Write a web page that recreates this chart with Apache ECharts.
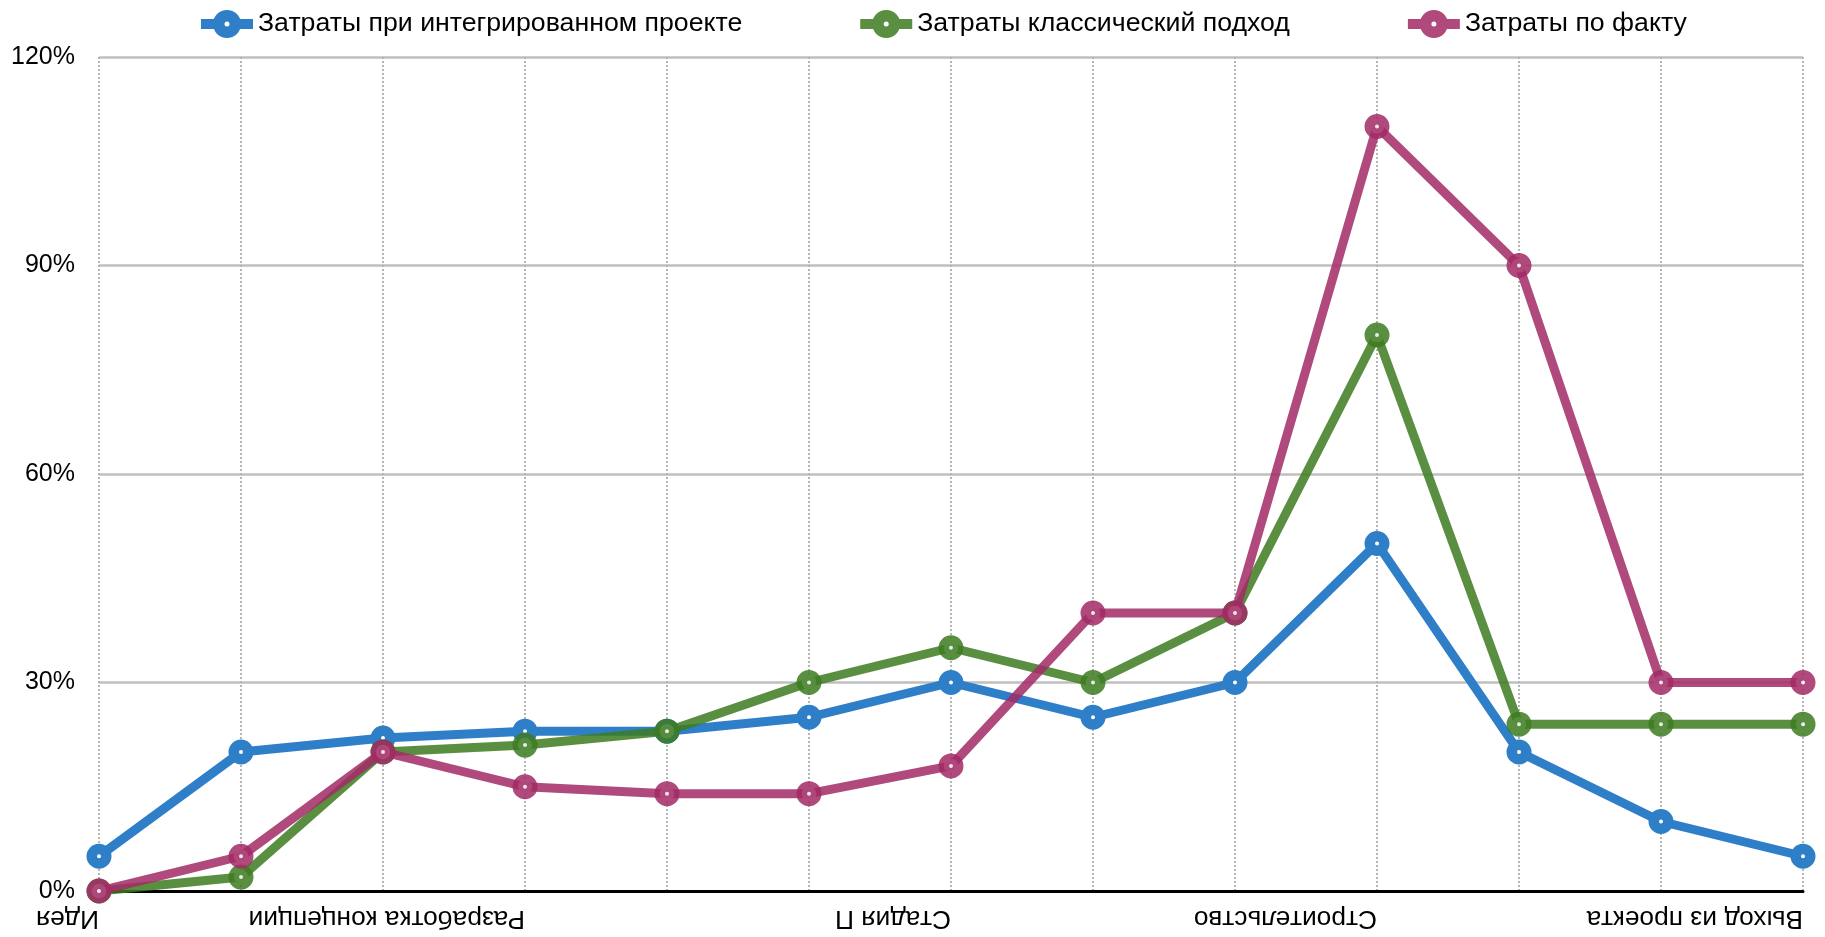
<!DOCTYPE html>
<html>
<head>
<meta charset="utf-8">
<script src="https://cdn.jsdelivr.net/npm/echarts@6/dist/echarts.min.js"></script>
<style>
html,body{margin:0;padding:0;background:#fff;}
#chart{width:1825px;height:937px;}
</style>
</head>
<body>
<div id="chart"></div>
<script>
const categories = ['Идея', '', '', 'Разработка концепции', '', '', 'Стадия П', '', '', 'Строительство', '', '', 'Выход из проекта'];
const seriesNames = ['Затраты при интегрированном проекте', 'Затраты классический подход', 'Затраты по факту'];
const integrated = [5, 20, 22, 23, 23, 25, 30, 25, 30, 50, 20, 10, 5];
const classic = [0, 2, 20, 21, 23, 30, 35, 30, 40, 80, 24, 24, 24];
const actual = [0, 5, 20, 15, 14, 14, 18, 40, 40, 110, 90, 30, 30];
const yTicks = { min: 0, max: 120, interval: 30 };

const colors = ['#2e7fc8', '#3d7b21', '#a22a65'];
const opac = [1, 0.85, 0.85];
const font = '"Liberation Sans", Arial, sans-serif';

// legend icon: line segments + ring with white centre dot (hole via opposite winding)
const legendIcon = 'path://M0 9L13 9L13 19L0 19Z' +
  'M39 9L52 9L52 19L39 19Z' +
  'M12 14A14 14 0 1 1 40 14A14 14 0 1 1 12 14Z' +
  'M23.5 14A2.5 2.5 0 1 0 28.5 14A2.5 2.5 0 1 0 23.5 14Z';

function mk(name, data, i) {
  return {
    name: name,
    type: 'line',
    data: data,
    symbol: 'circle',
    symbolSize: 14.5,
    showSymbol: true,
    lineStyle: { color: colors[i], width: 9, opacity: opac[i] },
    itemStyle: { color: '#ffffff', borderColor: colors[i], borderWidth: 10.5, opacity: opac[i] },
    emphasis: { disabled: true },
    z: 2 + i
  };
}

const chart = echarts.init(document.getElementById('chart'), null, { renderer: 'canvas' });
chart.setOption({
  animation: false,
  backgroundColor: '#fff',
  textStyle: { fontFamily: font },
  legend: {
    top: 5,
    left: 196,
    icon: legendIcon,
    itemWidth: 52,
    itemHeight: 28,
    itemGap: 118,
    textStyle: { fontSize: 26.7, color: '#000', fontFamily: font, padding: [0, 0, 0, 0] },
    data: seriesNames.map((n, i) => ({
      name: n,
      itemStyle: { color: colors[i], borderWidth: 0, opacity: opac[i] }
    }))
  },
  grid: { left: 99, right: 22, top: 57, bottom: 46, containLabel: false },
  xAxis: {
    type: 'category',
    data: categories,
    boundaryGap: false,
    axisLine: { lineStyle: { color: '#000', width: 3 } },
    axisTick: { show: false },
    axisLabel: {
      interval: 2,
      rotate: 180,
      fontSize: 26.3,
      color: '#000',
      fontFamily: font,
      align: 'left',
      verticalAlign: 'bottom',
      margin: 14
    },
    splitLine: { show: true, interval: 0, lineStyle: { type: 'dotted', color: '#b5b5b5', width: 2 } }
  },
  yAxis: {
    type: 'value',
    min: yTicks.min,
    max: yTicks.max,
    interval: yTicks.interval,
    axisLine: { show: false },
    axisTick: { show: false },
    axisLabel: { formatter: '{value}%', fontSize: 25, color: '#000', fontFamily: font, margin: 24 },
    splitLine: { lineStyle: { color: '#bfbfbf', width: 2.5 } }
  },
  series: [mk(seriesNames[0], integrated, 0), mk(seriesNames[1], classic, 1), mk(seriesNames[2], actual, 2)]
});
</script>
</body>
</html>
